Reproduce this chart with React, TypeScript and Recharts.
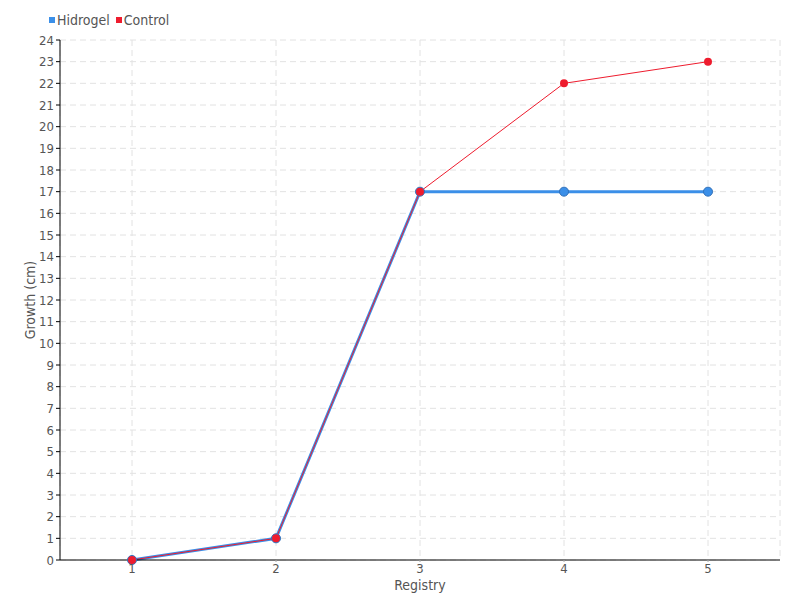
import { CartesianGrid, Line, LineChart, XAxis, YAxis } from "recharts";

const REGISTRY = ["1", "2", "3", "4", "5"];
const HIDROGEL = [0, 1, 17, 17, 17];
const CONTROL = [0, 1, 17, 22, 23];
const Y_TICKS = Array.from({ length: 25 }, (_, i) => i);

const HIDROGEL_COLOR = "#3b8fe8";
const CONTROL_COLOR = "#ee1c2e";
const FONT = "'DejaVu Sans', sans-serif";

const TICK_STYLE = { fill: "#555", fontSize: 13, fontFamily: FONT, fontStretch: "condensed" };

const data = REGISTRY.map((r, i) => ({
  registry: r,
  Hidrogel: HIDROGEL[i],
  Control: CONTROL[i],
}));

const LEGEND = [
  { name: "Hidrogel", color: HIDROGEL_COLOR },
  { name: "Control", color: CONTROL_COLOR },
];

export default function App() {
  return (
    <div style={{ position: "absolute", left: 0, top: 0, width: 800, height: 600, background: "#fff" }}>
      {/* legend drawn by hand so it doesn't eat into the plot area */}
      <div
        style={{
          position: "absolute",
          left: 49,
          top: 12,
          display: "flex",
          gap: 6,
          fontFamily: FONT,
          fontStretch: "condensed",
          fontSize: 14,
          color: "#555",
        }}
      >
        {LEGEND.map((l) => (
          <span key={l.name} style={{ display: "flex", alignItems: "center", gap: 2 }}>
            <span style={{ display: "inline-block", width: 6, height: 6, background: l.color }} />
            {l.name}
          </span>
        ))}
      </div>
      <LineChart width={800} height={600} data={data} margin={{ top: 40, right: 20, left: 0, bottom: 10 }}>
        <CartesianGrid stroke="#e2e2e2" strokeDasharray="6 4" />
        <XAxis
          dataKey="registry"
          padding={{ left: 72, right: 72 }}
          tick={TICK_STYLE}
          tickLine={{ stroke: "#aaa" }}
          tickSize={2}
          axisLine={{ stroke: "#000" }}
          height={30}
          label={{ value: "Registry", position: "insideBottom", offset: 0, style: { ...TICK_STYLE, fontSize: 14 } }}
        />
        <YAxis
          domain={[0, 24]}
          ticks={Y_TICKS}
          interval={0}
          tick={TICK_STYLE}
          tickLine={{ stroke: "#000" }}
          tickSize={4}
          axisLine={{ stroke: "#000" }}
          width={60}
          label={{
            value: "Growth (cm)",
            angle: -90,
            position: "insideLeft",
            offset: 30,
            style: { ...TICK_STYLE, fontSize: 14, textAnchor: "middle" },
          }}
        />
        <Line
          dataKey="Hidrogel"
          stroke={HIDROGEL_COLOR}
          strokeWidth={3}
          dot={{ r: 4.5, fill: HIDROGEL_COLOR, stroke: "#2f6fb8", strokeWidth: 1 }}
          isAnimationActive={false}
        />
        <Line
          dataKey="Control"
          stroke={CONTROL_COLOR}
          strokeWidth={1}
          dot={{ r: 4, fill: CONTROL_COLOR, stroke: CONTROL_COLOR, strokeWidth: 0 }}
          isAnimationActive={false}
        />
      </LineChart>
    </div>
  );
}
